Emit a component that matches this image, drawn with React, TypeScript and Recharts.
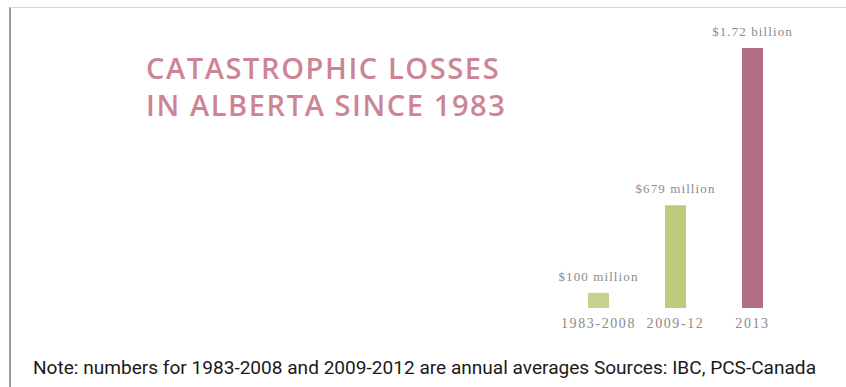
import { BarChart, Bar, XAxis, YAxis, Cell, LabelList } from "recharts";

const periods = ["1983-2008", "2009-12", "2013"];
const losses = [100, 679, 1720]; // $ millions
const lossLabels = ["$100 million", "$679 million", "$1.72 billion"];
const barColors = ["#c7d18c", "#bccb7c", "#b26c84"];

const data = periods.map((period, i) => ({
  period,
  value: losses[i],
  label: lossLabels[i],
}));

const TickLabel = (props: any) => {
  const { x, y, payload } = props;
  return (
    <text
      x={x}
      y={y + 12}
      textAnchor="middle"
      fill="#8a8a8a"
      fontSize={14}
      fontFamily="'Liberation Serif', serif"
      letterSpacing={1.6}
    >
      {payload.value}
    </text>
  );
};

// value label above each bar, kept on one line
const ValueLabel = (props: any) => {
  const { x, y, width, value } = props;
  return (
    <text
      x={x + width / 2}
      y={y - 12}
      textAnchor="middle"
      fill="#8a8a8a"
      fontSize={13}
      fontFamily="'Liberation Serif', serif"
      letterSpacing={1.1}
    >
      {value}
    </text>
  );
};

export default function App() {
  return (
    <div
      style={{
        position: "relative",
        width: 846,
        height: 387,
        background: "#fff",
        overflow: "hidden",
      }}
    >
      <style>{"body{margin:0}"}</style>
      {/* frame lines */}
      <div
        style={{
          position: "absolute",
          left: 9,
          top: 7,
          width: 2,
          height: 380,
          background: "#9a9a9a",
        }}
      />
      <div
        style={{
          position: "absolute",
          left: 10,
          top: 7,
          width: 836,
          height: 1,
          background: "#d4d4d4",
        }}
      />
      <div
        style={{
          position: "absolute",
          left: 146,
          top: 49,
          color: "#cd8596",
          fontFamily: "'Open Sans', sans-serif",
          fontWeight: 600,
          fontSize: 29,
          lineHeight: "37px",
          letterSpacing: 1.6,
          whiteSpace: "nowrap",
        }}
      >
        CATASTROPHIC LOSSES
        <br />
        IN ALBERTA SINCE 1983
      </div>
      <div style={{ position: "absolute", left: 0, top: 0 }}>
        <BarChart
          width={846}
          height={387}
          data={data}
          margin={{ top: 48, right: 55, bottom: 49, left: 560 }}
          barSize={21}
        >
          <XAxis
            dataKey="period"
            axisLine={false}
            tickLine={false}
            height={30}
            tick={<TickLabel />}
            interval={0}
          />
          <YAxis hide domain={[0, 1720]} />
          <Bar dataKey="value" isAnimationActive={false}>
            {data.map((d, i) => (
              <Cell key={d.period} fill={barColors[i]} />
            ))}
            <LabelList dataKey="label" content={<ValueLabel />} />
          </Bar>
        </BarChart>
      </div>
      <svg
        width={846}
        height={387}
        style={{ position: "absolute", left: 0, top: 0, pointerEvents: "none" }}
      >
        <text
          x={33}
          y={374}
          fill="#1a1a1a"
          fontSize={18}
          fontFamily="'Liberation Sans Narrow', 'Roboto', sans-serif"
          textLength={783}
          lengthAdjust="spacingAndGlyphs"
        >
          Note: numbers for 1983-2008 and 2009-2012 are annual averages Sources: IBC, PCS-Canada
        </text>
      </svg>
    </div>
  );
}
